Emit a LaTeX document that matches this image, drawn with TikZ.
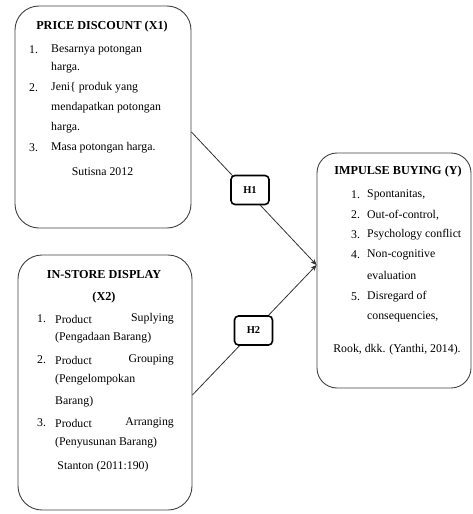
\documentclass[tikz,border=0pt]{standalone}
\usepackage{fontspec}
\setmainfont{Liberation Serif}
\usetikzlibrary{arrows.meta}
\begin{document}
\begin{tikzpicture}[x=1pt,y=-1pt,
  bigbox/.style={draw=black!75, line width=0.9pt, rounded corners=24pt, inner sep=0pt},
  hbox/.style={draw=black, line width=1.6pt, rounded corners=4pt, fill=white, minimum width=38pt, minimum height=29pt, inner sep=0pt, font=\fontsize{10.5}{12}\selectfont\bfseries},
  txt/.style={anchor=west, inner sep=0pt, font=\fontsize{11.8}{13}\selectfont},
  ttl/.style={inner sep=0pt, font=\fontsize{12.2}{14}\selectfont\bfseries},
  ctr/.style={inner sep=0pt, font=\fontsize{11.8}{13}\selectfont},
  link/.style={draw=black!80, line width=0.8pt}]
\useasboundingbox (0,0) rectangle (473,514);
% boxes
\node[bigbox, minimum width=176pt, minimum height=222pt] (b1) at (103,117) {};
\node[bigbox, minimum width=174pt, minimum height=255pt] (b2) at (105,382.5) {};
\node[bigbox, rounded corners=20pt, minimum width=154pt, minimum height=235pt] (b3) at (394,270.5) {};
\coordinate (tip) at (b3.west |- 0,265);
% connectors
\draw[link, -{Stealth[length=6pt,width=5pt]}] ([yshift=-15pt]b1.east) -- (tip);
\draw[link, -{Stealth[length=6pt,width=5pt]}] ([yshift=-12.5pt]b2.east) -- (tip);
\node[hbox] (h1) at (250,190) {H1};
\node[hbox] (h2) at (253.5,330.5) {H2};
% box 1 text
\node[ttl] (t1) at (102,27) {PRICE DISCOUNT (X1)};
\node[txt] (n11) at (29,50) {1.};
\node[txt] (a11) at (51,50) {Besarnya potongan};
\node[txt] (a12) at (51,68) {harga.};
\node[txt] (n12) at (29,88) {2.};
\node[txt] (a13) at (51,88) {Jeni\{ produk yang};
\node[txt] (a14) at (51,108) {mendapatkan potongan};
\node[txt] (a15) at (51,128) {harga.};
\node[txt] (n13) at (29,148) {3.};
\node[txt] (a16) at (51,148) {Masa potongan harga.};
\node[ctr] (s1) at (102.5,172) {Sutisna 2012};
% box 2 text
\node[ttl] (t2) at (104,275) {IN-STORE DISPLAY};
\node[ttl] (t2b) at (104,298) {(X2)};
\node[txt] (n21) at (37,319) {1.};
\node[txt] (a21) at (55,319) {Product};
\node[txt, anchor=east] (a21r) at (174,319) {Suplying};
\node[txt] (a22) at (55,338) {(Pengadaan Barang)};
\node[txt] (n22) at (37,360) {2.};
\node[txt] (a23) at (55,360) {Product};
\node[txt, anchor=east] (a23r) at (174,360) {Grouping};
\node[txt] (a24) at (55,380) {(Pengelompokan};
\node[txt] (a25) at (55,402) {Barang)};
\node[txt] (n23) at (37,423) {3.};
\node[txt] (a26) at (55,423) {Product};
\node[txt, anchor=east] (a26r) at (174,423) {Arranging};
\node[txt] (a27) at (55,443) {(Penyusunan Barang)};
\node[ctr] (s2) at (103,467) {Stanton (2011:190)};
% box 3 text
\node[ttl] (t3) at (398,172) {IMPULSE BUYING (Y)};
\node[txt] (n31) at (351,195) {1.};
\node[txt] (a31) at (367,195) {Spontanitas,};
\node[txt] (n32) at (351,215) {2.};
\node[txt] (a32) at (367,215) {Out-of-control,};
\node[txt] (n33) at (351,235) {3.};
\node[txt] (a33) at (367,235) {Psychology conflict};
\node[txt] (n34) at (351,255) {4.};
\node[txt] (a34) at (367,255) {Non-cognitive};
\node[txt] (a35) at (367,275) {evaluation};
\node[txt] (n35) at (351,297) {5.};
\node[txt] (a36) at (367,297) {Disregard of};
\node[txt] (a37) at (367,317) {consequencies,};
\node[ctr] (s3) at (397,350) {Rook, dkk. (Yanthi, 2014).};
\end{tikzpicture}
\end{document}
